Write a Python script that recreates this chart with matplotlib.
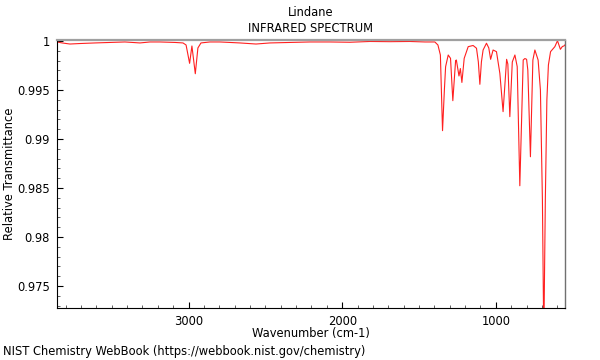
import matplotlib
matplotlib.use("Agg")
import matplotlib.pyplot as plt
from matplotlib.ticker import MultipleLocator, FuncFormatter

# Spectrum (wavenumber cm-1, relative transmittance)
wavenumber = [3856, 3823, 3772, 3707, 3609, 3511, 3414, 3316, 3251, 3186, 3088, 3036, 3016,
              2993, 2978, 2956, 2939, 2919, 2861, 2796, 2731, 2666, 2561, 2470, 2340, 2210,
              2080, 1950, 1820, 1690, 1560, 1462, 1397, 1377, 1361, 1347, 1335, 1327, 1310,
              1295, 1280, 1262, 1257, 1240, 1231, 1221, 1206, 1180, 1148, 1126, 1114, 1104,
              1094, 1083, 1061, 1046, 1034, 1018, 996, 974, 953, 930, 922, 909, 893, 876,
              861, 844, 822, 811, 800, 792, 775, 759, 746, 725, 710, 697, 688, 678, 668,
              658, 644, 616, 599, 580, 567, 557, 551]
transmittance = [0.99990, 0.99980, 0.99969, 0.99974, 0.99980, 0.99985, 0.99990, 0.99980,
                 0.99990, 0.99990, 0.99985, 0.99980, 0.99959,
                 0.99772, 0.99949, 0.99666, 0.99929, 0.99980, 0.99990, 0.99990, 0.99985,
                 0.99980, 0.99969, 0.99980, 0.99985, 0.99990,
                 0.99990, 0.99987, 0.99995, 0.99993, 0.99995, 0.99990, 0.99990, 0.99959,
                 0.99857, 0.99085, 0.99500, 0.99738, 0.99857,
                 0.99823, 0.99391, 0.99799, 0.99806, 0.99643, 0.99719, 0.99577, 0.99823,
                 0.99942, 0.99954, 0.99926, 0.99786, 0.99558,
                 0.99786, 0.99908, 0.99977, 0.99929, 0.99813, 0.99908, 0.99891, 0.99670,
                 0.99279, 0.99813, 0.99765, 0.99228, 0.99786, 0.99857,
                 0.99738, 0.98523, 0.99806, 0.99821, 0.99813, 0.99704, 0.98819, 0.99806,
                 0.99908, 0.99806, 0.99500, 0.98378, 0.96949, 0.98378, 0.99398,
                 0.99755, 0.99891, 0.99942, 1.00003, 0.99915, 0.99944, 0.99949, 0.99959]

title_name = "Lindane"
title_kind = "INFRARED SPECTRUM"
x_label = "Wavenumber (cm-1)"
y_label = "Relative Transmittance"
footer = "NIST Chemistry WebBook (https://webbook.nist.gov/chemistry)"

FS = 8.3

fig = plt.figure(figsize=(6, 3.6), dpi=100)
ax = fig.add_axes([57 / 600, 1 - 308 / 360, (565 - 57) / 600, (308 - 40) / 360])

ax.plot(wavenumber, transmittance, color="#ff2020", lw=0.8)

ax.set_xlim(3856, 550)
ax.set_ylim(0.97276, 1.0001)

ax.xaxis.set_major_locator(MultipleLocator(1000))
ax.xaxis.set_minor_locator(MultipleLocator(100))
ax.yaxis.set_major_locator(MultipleLocator(0.005))
ax.yaxis.set_minor_locator(MultipleLocator(0.001))
ax.yaxis.set_major_formatter(FuncFormatter(lambda v, p: "%g" % round(v, 4)))
ax.xaxis.set_major_formatter(FuncFormatter(lambda v, p: "%d" % v))

ax.tick_params(which="both", direction="in", top=False, right=False, labelsize=FS)
ax.tick_params(which="major", length=4, width=0.8)
ax.tick_params(which="minor", length=2.5, width=0.6, color="#444444")
ax.tick_params(axis="x", which="major", pad=5)
ax.tick_params(axis="y", which="major", pad=5)

ax.spines["top"].set_color("#a0a0a0")
ax.spines["top"].set_linewidth(1.6)
ax.spines["right"].set_color("#707070")
ax.spines["right"].set_linewidth(1.0)
ax.spines["left"].set_color("black")
ax.spines["bottom"].set_color("black")

ax.set_xlabel(x_label, fontsize=FS)
ax.xaxis.set_label_coords(0.5, -(334 - 308) / 268, transform=ax.transAxes)
ax.xaxis.label.set_va("center")
ax.set_ylabel(y_label, fontsize=FS)
ax.yaxis.set_label_coords(-(57 - 10) / 508, 0.5, transform=ax.transAxes)
ax.yaxis.label.set_va("center")

fig.text(311 / 600, 1 - 13 / 360, title_name, ha="center", va="center", fontsize=FS)
fig.text(311 / 600, 1 - 29 / 360, title_kind, ha="center", va="center", fontsize=FS)
fig.text(3 / 600, 1 - 352 / 360, footer, ha="left", va="center", fontsize=FS)

fig.savefig("out.png", dpi=100)
